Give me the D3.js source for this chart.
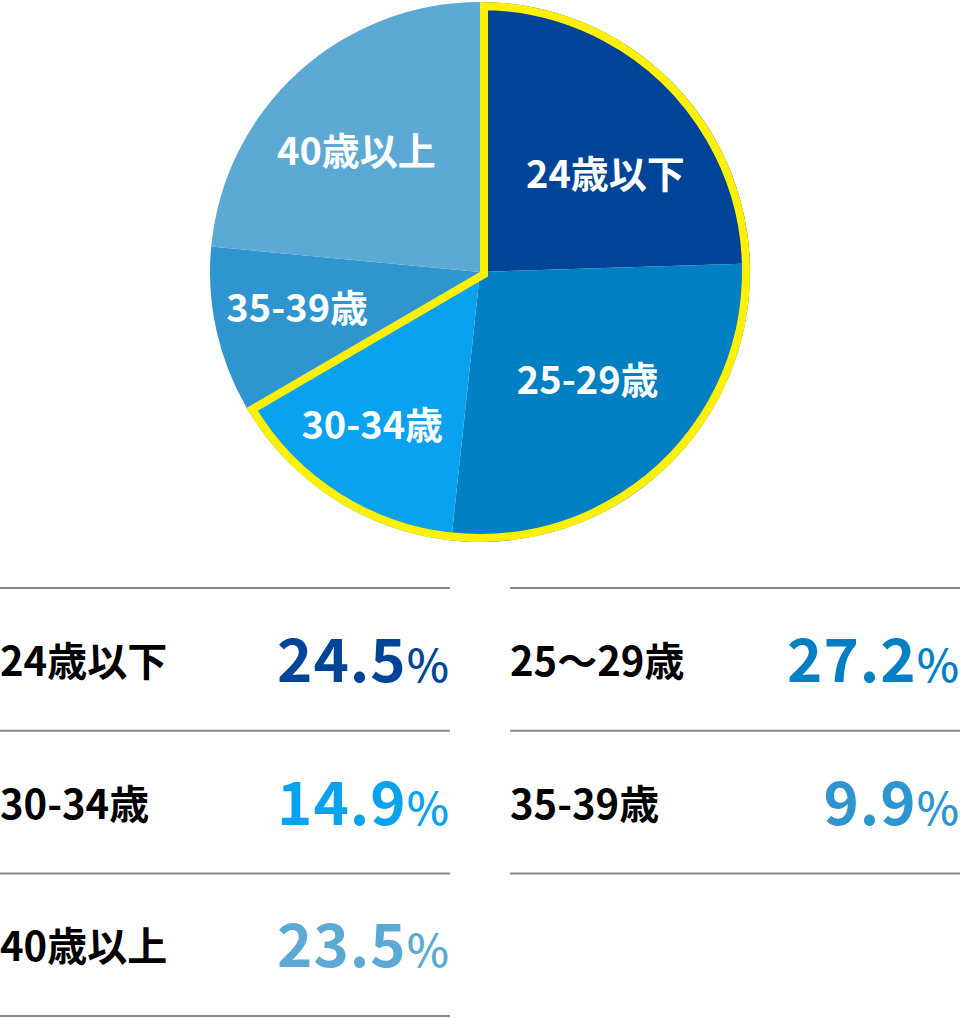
<!DOCTYPE html>
<html>
<head>
<meta charset="utf-8">
<script src="https://cdn.jsdelivr.net/npm/d3@7"></script>
<style>
  body { margin: 0; background: #fff; }
  svg { display: block; font-family: "Noto Sans CJK JP", "Noto Sans", sans-serif; }
</style>
</head>
<body>
<div id="chart"></div>
<script>
// data
const pieLabels = ["24歳以下", "25-29歳", "30-34歳", "35-39歳", "40歳以上"]
const rowLabels = ["24歳以下", "25～29歳", "30-34歳", "35-39歳", "40歳以上"]
const shares = [24.5, 27.2, 14.9, 9.9, 23.5]
const colors = ["#004497", "#0080c2", "#08a2ee", "#2f95ce", "#5ca9d3"]
const highlighted = 3 // first three slices get the yellow outline

const width = 960, height = 1018
const cx = 480, cy = 272, radius = 270
// small nudges so the labels sit where the original has them
const labelNudge = [[8, 24], [-7, -15], [-16, 12], [-18, 0], [-10, 4]]

const svg = d3.select("#chart")
    .append("svg")
    .attr("width", width)
    .attr("height", height)

/* ______________________ pie ______________________ */
const pie = d3.pie().sort(null).value(d => d)
const arcs = pie(shares)

const arc = d3.arc().innerRadius(0).outerRadius(radius)
const labelArc = d3.arc().innerRadius(0).outerRadius(radius * 1.25)

const g = svg.append("g")
    .attr("transform", "translate(" + cx + "," + cy + ")")

g.selectAll("path.slice")
    .data(arcs)
    .enter().append("path")
    .attr("class", "slice")
    .attr("fill", (d, i) => colors[i])
    .attr("d", arc)

// yellow outline drawn inside the first slices (stroke clipped to the shape)
const hiArc = {
    startAngle: arcs[0].startAngle,
    endAngle: arcs[highlighted - 1].endAngle,
    padAngle: 0
}
svg.append("defs").append("clipPath")
    .attr("id", "hiClip")
    .append("path")
    .attr("d", arc(hiArc))

g.append("path")
    .attr("d", arc(hiArc))
    .attr("fill", "none")
    .attr("stroke", "#fff100")
    .attr("stroke-width", 16)
    .attr("stroke-linejoin", "miter")
    .attr("clip-path", "url(#hiClip)")

g.selectAll("text.inlabel")
    .data(arcs)
    .enter().append("text")
    .attr("class", "inlabel")
    .attr("x", (d, i) => labelArc.centroid(d)[0] + labelNudge[i][0])
    .attr("y", (d, i) => labelArc.centroid(d)[1] + labelNudge[i][1])
    .attr("dy", "0.35em")
    .attr("text-anchor", "middle")
    .attr("fill", "#fff")
    .style("font-size", "38px")
    .style("font-weight", 700)
    .text((d, i) => pieLabels[i])

/* ______________________ table ______________________ */
const colX = [0, 510], colW = 450
const rowTop = 588, rowH = 142.7

const cells = shares.map((v, i) => ({
    label: rowLabels[i],
    value: v,
    color: colors[i],
    col: i % 2,
    row: Math.floor(i / 2)
}))

// horizontal rules
const rowsPerCol = [3, 2]
rowsPerCol.forEach((n, c) => {
    for (let r = 0; r <= n; r++) {
        svg.append("line")
            .attr("x1", colX[c])
            .attr("x2", colX[c] + colW)
            .attr("y1", rowTop + r * rowH)
            .attr("y2", rowTop + r * rowH)
            .attr("stroke", "#888")
            .attr("stroke-width", 2)
    }
})

const cell = svg.selectAll("g.cell")
    .data(cells)
    .enter().append("g")
    .attr("class", "cell")
    .attr("transform", d => "translate(" + colX[d.col] + "," + (rowTop + d.row * rowH) + ")")

cell.append("text")
    .attr("x", 0)
    .attr("y", 88)
    .attr("fill", "#000")
    .style("font-size", "40px")
    .style("font-weight", 700)
    .text(d => d.label)

const num = cell.append("text")
    .attr("x", colW - 1)
    .attr("y", 94)
    .attr("text-anchor", "end")
    .attr("fill", d => d.color)

num.append("tspan")
    .style("font-size", "60px")
    .style("font-weight", 700)
    .style("letter-spacing", "1px")
    .text(d => d.value.toFixed(1))

num.append("tspan")
    .style("font-size", "45px")
    .style("font-weight", 500)
    .text("%")
</script>
</body>
</html>
